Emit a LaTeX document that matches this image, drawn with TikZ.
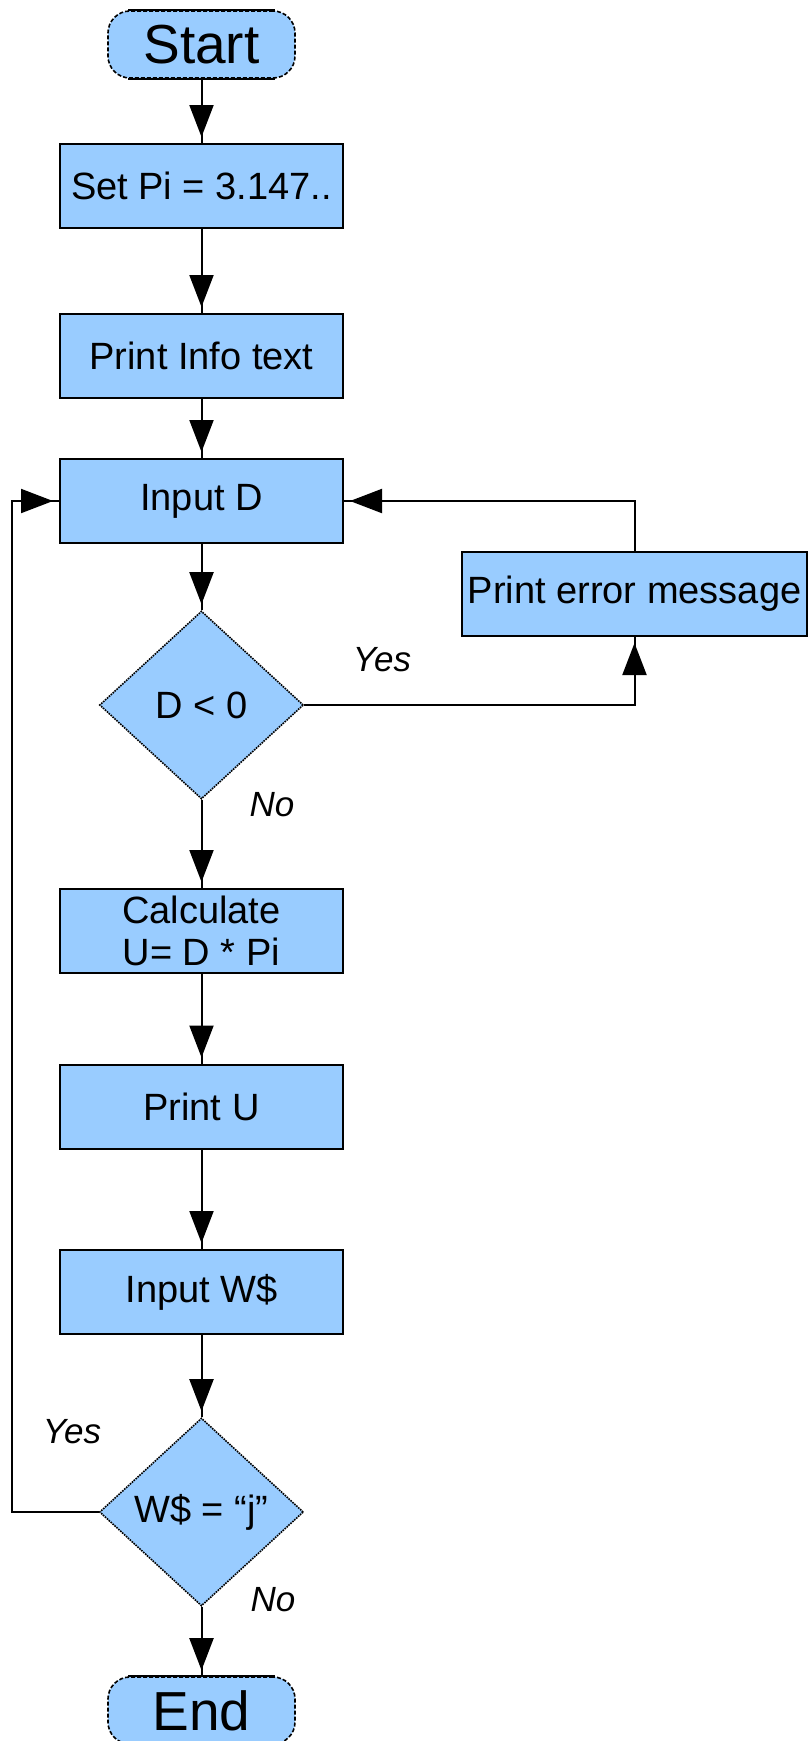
\documentclass[tikz,border=0pt]{standalone}
\usepackage{fontspec}
\setmainfont{Liberation Sans}
\usetikzlibrary{shapes.geometric,arrows.meta}
\definecolor{boxblue}{HTML}{99CCFF}
\begin{document}
\begin{tikzpicture}[x=1pt,y=-1pt,
  txt/.style={font=\fontsize{38pt}{42pt}\selectfont, align=center},
  procbox/.style={txt, rectangle, draw, line width=2pt, fill=boxblue, minimum width=283pt, minimum height=84pt, inner sep=0pt},
  decbox/.style={txt, diamond, draw, line width=1.6pt, densely dotted, fill=boxblue, minimum width=204pt, minimum height=188pt, inner sep=0pt},
  termbox/.style={rectangle, rounded corners=22pt, draw, line width=1.6pt, dash pattern=on 4pt off 2pt, fill=boxblue, minimum width=187pt, minimum height=67pt, inner sep=0pt, font=\fontsize{55pt}{60pt}\selectfont},
  lbl/.style={font=\fontsize{35pt}{40pt}\selectfont\itshape},
  conn/.style={line width=2pt},
  tipped/.style={line width=2pt, -{Triangle[length=32pt,width=24pt]}, shorten >=6pt}]
\useasboundingbox (0,0) rectangle (809,1741);

\node[termbox] (start) at (201.5,44.5) {Start};
\draw[line width=2pt] ([xshift=21pt]start.north west) -- ([xshift=-21pt]start.north east);
\draw[line width=2pt] ([xshift=21pt]start.south west) -- ([xshift=-21pt]start.south east);

\node[procbox] (setpi) at (201.5,186) {Set Pi = 3.147..};
\node[procbox] (info) at (201.5,356) {Print Info text};
\node[procbox] (inputd) at (201.5,501) {Input D};
\node[procbox, minimum width=345pt] (err) at (634.5,594) {Print error message};
\node[decbox] (dlt) at (201.5,705) {D < 0};
\node[procbox] (calc) at (201.5,931) {Calculate\\U= D * Pi};
\node[procbox] (printu) at (201.5,1106.5) {Print U};
\node[procbox] (inputw) at (201.5,1292) {Input W\$};
\node[decbox] (wdec) at (201.5,1512) {W\$ = “j”};
\node[termbox] (end) at (201.5,1710.5) {End};
\draw[line width=2pt] ([xshift=21pt]end.north west) -- ([xshift=-21pt]end.north east);

\node[lbl] (yes1) at (382,660) {Yes};
\node[lbl] (no1) at (272,805) {No};
\node[lbl] (yes2) at (72,1432) {Yes};
\node[lbl] (no2) at (273,1600) {No};

\coordinate (lb) at (12,1512);
\coordinate (lt) at (12,501);

\foreach \a/\b in {start/setpi, setpi/info, info/inputd, inputd/dlt, dlt/calc, calc/printu, printu/inputw, inputw/wdec, wdec/end}{
  \draw[conn] (\a) -- (\b);
  \draw[tipped] (\a) -- (\b);
}
\draw[conn] (dlt.east) -| (err.south);
\draw[tipped] (dlt.east) -| (err.south);
\draw[conn] (err.north) |- (inputd.east);
\draw[tipped] (err.north) |- (inputd.east);
\draw[conn] (wdec.west) -- (lb) -- (lt) -- (inputd.west);
\draw[tipped] (wdec.west) -- (lb) -- (lt) -- (inputd.west);
\end{tikzpicture}
\end{document}
